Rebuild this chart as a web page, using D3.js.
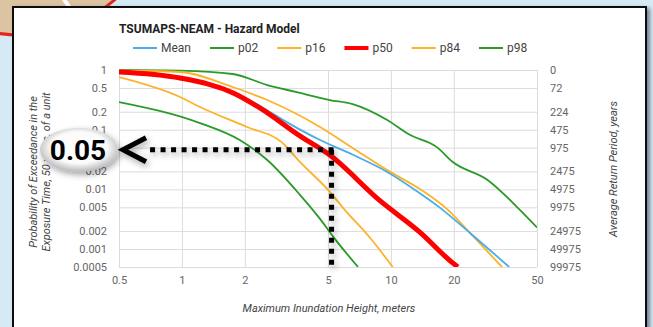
<!DOCTYPE html>
<html><head><meta charset="utf-8">
<script src="https://cdn.jsdelivr.net/npm/d3@7"></script>
<style>
html,body{margin:0;padding:0;background:#d6eaf6;}
svg{display:block;font-family:Roboto,"Liberation Sans",Arial,sans-serif;}
</style></head>
<body>
<svg id="c" width="653" height="327"></svg>
<script>
// ---------- DATA ----------
const xTicks = [0.5, 1, 2, 5, 10, 20, 50];
const yTicks = [1, 0.5, 0.2, 0.1, 0.05, 0.02, 0.01, 0.005, 0.002, 0.001, 0.0005];
const yTickLabels = ["1","0.5","0.2","0.1","0.05","0.02","0.01","0.005","0.002","0.001","0.0005"];
const returnPeriodLabels = ["0","72","224","475","975","2475","4975","9975","24975","49975","99975"];
const seriesNames = ["Mean","p02","p16","p50","p84","p98"];

// [height (m), probability]
const meanData = [[0.5,0.93],[0.98,0.76],[1.76,0.43],[2.36,0.25],[3.28,0.125],[4.58,0.067],[6.58,0.038],[9.6,0.0196],[13.7,0.0087],[17.2,0.0049],[23.9,0.00186],[36.8,0.0005]];
const p02Data = [[0.5,0.29],[1.22,0.129],[1.89,0.067],[2.56,0.031],[3.67,0.0081],[4.58,0.0032],[5.3,0.0016],[6.96,0.0005]];
const p16Data = [[0.5,0.76],[0.98,0.353],[1.22,0.24],[2.05,0.111],[3.03,0.06],[3.67,0.0288],[5.1,0.0091],[5.9,0.0049],[8.0,0.0015],[10.2,0.0005]];
const p50Data = [[0.5,0.93],[0.98,0.735],[1.76,0.412],[2.36,0.231],[3.67,0.0785],[5.1,0.0376],[8.8,0.0066],[13.7,0.00194],[19.8,0.00058],[20.9,0.0005]];
const p84Data = [[0.5,0.98],[0.98,0.926],[1.75,0.519],[2.56,0.314],[4.58,0.111],[6.58,0.049],[9.6,0.021],[13.7,0.0102],[18.8,0.0045],[23.9,0.00186],[34,0.0005]];
const p98Data = [[0.5,1],[0.98,0.973],[1.75,0.857],[2.56,0.56],[3.5,0.43],[5.1,0.314],[6.5,0.27],[9.6,0.145],[12.3,0.082],[16.6,0.051],[19.7,0.029],[29,0.0144],[41.5,0.0045],[50,0.0023]];

const markerHeight = 5.2;   // annotated height
const markerProb = 0.046;   // annotated probability
const calloutText = "0.05";

// ---------- STYLES ----------
const colors = {Mean:"#48aee6", p02:"#2a9a2a", p16:"#fdb22a", p50:"#ff0000", p84:"#fdb22a", p98:"#2a9a2a"};
const widths = {Mean:1.8, p02:1.8, p16:1.8, p50:5, p84:1.8, p98:1.8};
const seriesData = {Mean:meanData, p02:p02Data, p16:p16Data, p50:p50Data, p84:p84Data, p98:p98Data};

const svg = d3.select("#c");
const defs = svg.append("defs");

const sh = defs.append("filter").attr("id","psh").attr("x","-5%").attr("y","-5%").attr("width","115%").attr("height","115%");
sh.append("feDropShadow").attr("dx",3).attr("dy",2).attr("stdDeviation",2).attr("flood-color","#456").attr("flood-opacity",0.7);
const dsh = defs.append("filter").attr("id","dsh").attr("x","-20%").attr("y","-20%").attr("width","140%").attr("height","140%");
dsh.append("feDropShadow").attr("dx",2).attr("dy",3).attr("stdDeviation",3).attr("flood-color","#000").attr("flood-opacity",0.35);
const rg = defs.append("radialGradient").attr("id","eg").attr("cx","50%").attr("cy","45%").attr("r","55%");
rg.append("stop").attr("offset","0%").attr("stop-color","#ffffff");
rg.append("stop").attr("offset","65%").attr("stop-color","#fbfbfb");
rg.append("stop").attr("offset","100%").attr("stop-color","#b8b8b8");
defs.append("clipPath").attr("id","plotclip").append("rect").attr("x",119).attr("y",68).attr("width",418).attr("height",199);

// background decoration (map disc top-left)
svg.append("rect").attr("width",653).attr("height",327).attr("fill","#d6eaf6");
svg.append("circle").attr("cx",20).attr("cy",-110).attr("r",145).attr("fill","#dcc3a2").attr("stroke","#e0261e").attr("stroke-width",3);
svg.append("line").attr("x1",63).attr("y1",-2).attr("x2",70).attr("y2",8).attr("stroke","#fff").attr("stroke-width",4);

// panel
svg.append("rect").attr("x",13).attr("y",7).attr("width",633).attr("height",330)
  .attr("fill","#fff").attr("stroke","#111").attr("stroke-width",2).attr("filter","url(#psh)");

// scales
const x = d3.scaleLog().domain([0.5,50]).range([119,537]);
const y = d3.scaleLog().domain([1,0.0005]).range([70,267]);

// gridlines
svg.append("g").attr("transform","translate(119,0)")
  .call(d3.axisLeft(y).tickValues(yTicks).tickSize(-418).tickFormat(""))
  .call(g=>g.select(".domain").remove())
  .call(g=>g.selectAll("line").attr("stroke","#dcdcdc").attr("stroke-width",1));
svg.append("g").attr("transform","translate(0,267)")
  .call(d3.axisBottom(x).tickValues(xTicks).tickSize(-197).tickFormat(""))
  .call(g=>g.select(".domain").remove())
  .call(g=>g.selectAll("line").attr("stroke","#dcdcdc").attr("stroke-width",1));

// axes labels
const tickStyle = g=>{g.select(".domain").remove(); g.selectAll("text").attr("fill","#666").style("font-size","11px").style("font-family","Roboto,sans-serif");};
svg.append("g").attr("transform","translate(119,0)")
  .call(d3.axisLeft(y).tickValues(yTicks).tickSize(0).tickPadding(12).tickFormat((d,i)=>yTickLabels[i]))
  .call(tickStyle);
svg.append("g").attr("transform","translate(537,0)")
  .call(d3.axisRight(y).tickValues(yTicks).tickSize(0).tickPadding(13).tickFormat((d,i)=>returnPeriodLabels[i]))
  .call(tickStyle);
svg.append("g").attr("transform","translate(0,267)")
  .call(d3.axisBottom(x).tickValues(xTicks).tickSize(0).tickPadding(9).tickFormat(d3.format("")))
  .call(tickStyle);

// axis titles
svg.append("text").attr("x",329).attr("y",312).attr("text-anchor","middle")
  .attr("font-style","italic").attr("font-size",11).attr("fill","#444").text("Maximum Inundation Height, meters");
const lt = svg.append("text").attr("transform","translate(37,172) rotate(-90)").attr("text-anchor","middle")
  .attr("font-style","italic").attr("font-size",11).attr("fill","#444");
lt.append("tspan").attr("x",0).attr("dy",0).text("Probability of Exceedance in the");
lt.append("tspan").attr("x",0).attr("dy",13).text("Exposure Time, 50 years, of a unit");
svg.append("text").attr("transform","translate(617,169) rotate(-90)").attr("text-anchor","middle")
  .attr("font-style","italic").attr("font-size",11).attr("fill","#444").text("Average Return Period, years");

// title
svg.append("text").attr("x",119).attr("y",33).attr("font-weight","bold").attr("font-size",12).attr("fill","#222")
  .text("TSUMAPS-NEAM - Hazard Model");

// legend (flow layout)
const leg = svg.append("g");
let lx = 133;
seriesNames.forEach(n=>{
  leg.append("line").attr("x1",lx).attr("x2",lx+24).attr("y1",48).attr("y2",48)
    .attr("stroke",colors[n]).attr("stroke-width", n==="p50"?4:2);
  const t = leg.append("text").attr("x",lx+28).attr("y",52).attr("font-size",12).attr("fill","#444").text(n);
  lx = lx + 28 + t.node().getComputedTextLength() + 19;
});

// curves
const line = d3.line().x(d=>x(d[0])).y(d=>y(d[1])).curve(d3.curveMonotoneX);
const drawOrder = ["p98","p84","Mean","p16","p02","p50"];
const cg = svg.append("g").attr("clip-path","url(#plotclip)");
drawOrder.forEach(n=>{
  cg.append("path").datum(seriesData[n]).attr("d",line).attr("fill","none")
    .attr("stroke",colors[n]).attr("stroke-width",widths[n]).attr("stroke-linejoin","round");
});

// annotation: dotted lines
const mx = x(markerHeight), my = y(markerProb);
const ann = svg.append("g").attr("filter","url(#dsh)");
ann.append("line").attr("x1",mx+2).attr("x2",147).attr("y1",my).attr("y2",my)
  .attr("stroke","#000").attr("stroke-width",5).attr("stroke-dasharray","5,5.5");
ann.append("line").attr("x1",mx).attr("x2",mx).attr("y1",my).attr("y2",y(0.0005))
  .attr("stroke","#000").attr("stroke-width",5).attr("stroke-dasharray","5,6");
ann.append("path").attr("d",`M146,${my-12} L123,${my} L146,${my+12}`).attr("fill","none")
  .attr("stroke","#000").attr("stroke-width",5).attr("stroke-linejoin","miter");

// callout ellipse
svg.append("ellipse").attr("cx",79).attr("cy",my).attr("rx",39).attr("ry",22)
  .attr("fill","url(#eg)").attr("filter","url(#dsh)");
svg.append("text").attr("x",78).attr("y",my+10).attr("text-anchor","middle")
  .attr("font-weight","bold").attr("font-size",28).attr("fill","#000").text(calloutText);
</script>
</body></html>
